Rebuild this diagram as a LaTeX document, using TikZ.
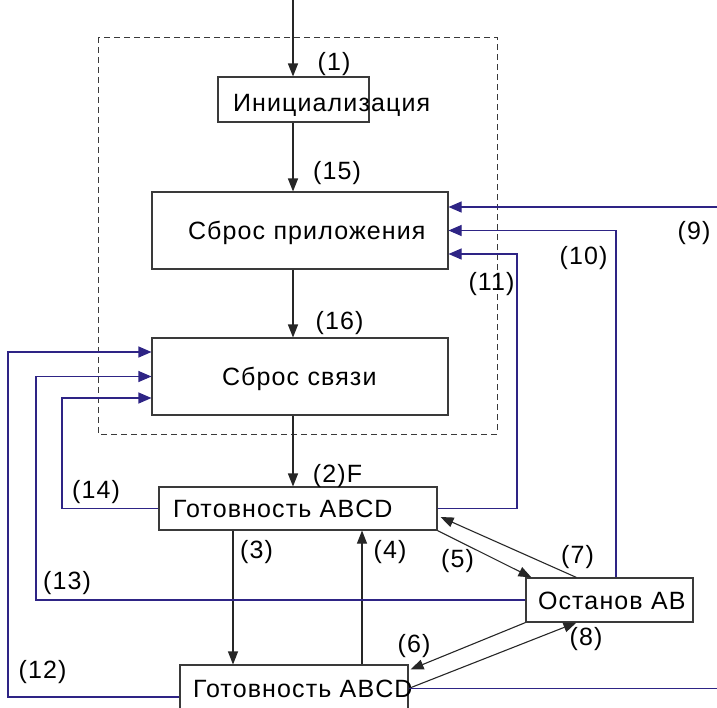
\documentclass[tikz,border=0pt]{standalone}
\usepackage{fontspec}
\setmainfont{Liberation Sans}[LetterSpace=4.5]
\usepackage{tikz}
\usetikzlibrary{arrows.meta}
\definecolor{navy}{HTML}{2E2485}
\definecolor{frame}{HTML}{3A3A3A}

\begin{document}
\begin{tikzpicture}[x=1pt,y=-1pt,font=\fontsize{25pt}{30pt}\selectfont,
  stage/.style={draw=frame,line width=1.1pt,rectangle,inner ysep=0pt,text height=18pt,text depth=0pt,align=left},
  flow/.style={-{Triangle[length=13pt,width=10pt]},line width=1.4pt,black!85},
  move/.style={flow,line width=1.1pt},
  wire/.style={navy,line width=1.1pt},
  back/.style={wire,-{Triangle[length=13pt,width=11pt]}},
  tag/.style={inner sep=0pt}]
\useasboundingbox (0,0) rectangle (717,707);
\draw[frame,line width=1pt,dash pattern=on 6pt off 4pt] (98,37) rectangle (497,434);
\node[stage,minimum height=45pt,text width=121pt,inner xsep=15pt,text height=24pt] (init) at (293.5,99.5) {\mbox{Инициализация}};
\node[stage,minimum height=77pt,text width=224pt,inner xsep=36pt] (app) at (300,230.5) {\mbox{Сброс приложения}};
\node[stage,minimum height=77pt,text width=156pt,inner xsep=70pt] (link) at (300,376.5) {\mbox{Сброс связи}};
\node[stage,minimum height=43pt,text width=250pt,inner xsep=14pt] (ready) at (298,508.5) {\mbox{Готовность ABCD}};
\node[stage,minimum height=47pt,text width=202pt,inner xsep=13pt] (ready2) at (294,688.5) {\mbox{Готовность ABCD}};
\node[stage,minimum height=44pt,text width=143pt,inner xsep=12pt] (stop) at (609.5,600) {\mbox{Останов AB}};
\coordinate (entry) at (293,0);
\draw[flow] (entry) -- (entry |- init.north);
\draw[flow] (init.south -| entry) -- (app.north -| entry);
\draw[flow] (app.south -| entry) -- (link.north -| entry);
\draw[flow] (link.south -| entry) -- (ready.north -| entry);
\draw[move] ([xshift=-65pt]ready.south) -- ([xshift=-65pt]ready.south |- ready2.north);
\draw[move] ([xshift=68pt]ready2.north) -- ([xshift=68pt]ready2.north |- ready.south);
\draw[move] (ready.south east) -- ([xshift=6pt]stop.north west);
\draw[move] ([xshift=51pt]stop.north west) -- ([shift={(3pt,-8.5pt)}]ready.east);
\draw[move] (stop.south west) -- ([shift={(2pt,-5pt)}]ready2.north east);
\draw[move] (ready2.east) -- ([xshift=51pt]stop.south west);
\coordinate (nine) at (717,207);
\coordinate (nineb) at (717,689);
\coordinate (c11) at (517,254);
\coordinate (c12) at (8,352);
\coordinate (c13) at (36,376.5);
\coordinate (c14) at (62,398);
\draw[back] (nine) -- (nine -| app.east);
\draw[wire] (ready2.east) -- (ready2.east -| nineb);
\draw[back] ([xshift=6.5pt]stop.north) |- (app.east);
\draw[back] (ready.east) -| (c11) -- (c11 -| app.east);
\draw[back] ([yshift=-8.5pt]ready2.west) -| (c12) -- (c12 -| link.west);
\draw[back] (stop.west) -| (c13) -- (link.west);
\draw[back] (ready.west) -| (c14) -- (c14 -| link.west);
\node[tag] (l1) at (334,64) {(1)};
\node[tag] (l15) at (337,173) {(15)};
\node[tag] (l16) at (339.5,323.5) {(16)};
\node[tag] (l2) at (337.5,476) {(2)F};
\node[tag] (l14) at (96,492) {(14)};
\node[tag] (l13) at (67,583) {(13)};
\node[tag] (l12) at (42.5,672) {(12)};
\node[tag] (l11) at (491.5,284) {(11)};
\node[tag] (l10) at (583.5,258) {(10)};
\node[tag] (l9) at (694,233) {(9)};
\node[tag] (l3) at (256.5,552.5) {(3)};
\node[tag] (l4) at (390,552) {(4)};
\node[tag] (l5) at (457.5,561) {(5)};
\node[tag] (l7) at (577.5,557.5) {(7)};
\node[tag] (l6) at (414,646) {(6)};
\node[tag] (l8) at (586,639) {(8)};
\end{tikzpicture}
\end{document}
